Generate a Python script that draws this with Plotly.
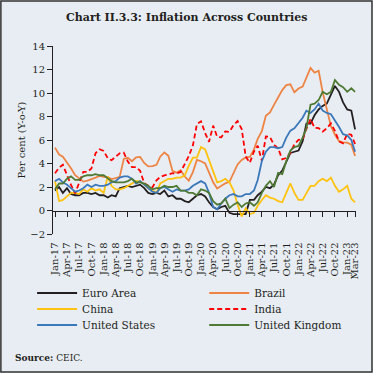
import pandas as pd
import plotly.graph_objects as go

months = pd.date_range("2017-01-01", periods=75, freq="MS")

euro_area = [1.7, 2.0, 1.5, 1.9, 1.4, 1.3, 1.3, 1.5, 1.5, 1.4, 1.5, 1.3,
             1.3, 1.1, 1.3, 1.2, 1.9, 2.0, 2.1, 2.0, 2.1, 2.2, 1.9, 1.5,
             1.4, 1.5, 1.4, 1.7, 1.2, 1.3, 1.0, 1.0, 0.8, 0.7, 1.0, 1.3,
             1.4, 1.2, 0.7, 0.3, 0.1, 0.3, 0.4, -0.2, -0.3, -0.3, -0.3, -0.3,
             0.9, 0.9, 1.3, 1.6, 2.0, 1.9, 2.2, 3.0, 3.4, 4.1, 4.9, 5.0,
             5.1, 5.9, 7.4, 7.4, 8.1, 8.6, 8.9, 9.1, 9.9, 10.6, 10.1, 9.2,
             8.6, 8.5, 6.9]
brazil = [5.35, 4.76, 4.57, 4.08, 3.60, 3.00, 2.71, 2.46, 2.54, 2.70, 2.80, 2.95,
          2.86, 2.84, 2.68, 2.76, 2.86, 4.39, 4.48, 4.19, 4.53, 4.56, 4.05, 3.75,
          3.78, 3.89, 4.58, 4.94, 4.66, 3.37, 3.22, 3.43, 2.89, 2.54, 3.27, 4.31,
          4.19, 4.00, 3.30, 2.40, 1.88, 2.13, 2.31, 2.44, 3.14, 3.92, 4.31, 4.52,
          4.56, 5.20, 6.10, 6.76, 8.06, 8.35, 8.99, 9.68, 10.25, 10.67, 10.74, 10.06,
          10.38, 10.54, 11.30, 12.13, 11.73, 11.89, 10.07, 8.73, 7.17, 6.47, 5.90, 5.79,
          5.77, 5.60, 4.65]
china = [2.5, 0.8, 0.9, 1.2, 1.5, 1.5, 1.4, 1.8, 1.6, 1.9, 1.7, 1.8,
         1.5, 2.9, 2.1, 1.8, 1.8, 1.9, 2.1, 2.3, 2.5, 2.5, 2.2, 1.9,
         1.7, 1.5, 2.3, 2.5, 2.7, 2.7, 2.8, 2.8, 3.0, 3.8, 4.5, 4.5,
         5.4, 5.2, 4.3, 3.3, 2.4, 2.5, 2.7, 2.4, 1.7, 0.5, -0.5, 0.2,
         -0.3, -0.2, 0.4, 0.9, 1.3, 1.1, 1.0, 0.8, 0.7, 1.5, 2.3, 1.5,
         0.9, 0.9, 1.5, 2.1, 2.1, 2.5, 2.7, 2.5, 2.8, 2.1, 1.6, 1.8,
         2.1, 1.0, 0.7]
india = [3.17, 3.65, 3.89, 2.99, 2.18, 1.46, 2.36, 3.28, 3.28, 3.58, 4.88, 5.21,
         5.07, 4.44, 4.28, 4.58, 4.87, 4.92, 4.17, 3.69, 3.70, 3.38, 2.33, 2.11,
         1.97, 2.57, 2.86, 2.99, 3.05, 3.18, 3.15, 3.28, 3.99, 4.62, 5.54, 7.35,
         7.59, 6.58, 5.84, 7.22, 6.27, 6.23, 6.73, 6.69, 7.27, 7.61, 6.93, 4.59,
         4.06, 5.03, 5.52, 4.23, 6.30, 6.26, 5.59, 5.30, 4.35, 4.48, 4.91, 5.66,
         6.01, 6.07, 6.95, 7.79, 7.04, 7.01, 6.71, 7.00, 7.41, 6.77, 5.88, 5.72,
         6.52, 6.44, 5.66]
united_states = [2.5, 2.7, 2.4, 2.2, 1.9, 1.6, 1.7, 1.9, 2.2, 2.0, 2.2, 2.1,
                 2.1, 2.2, 2.4, 2.5, 2.8, 2.9, 2.9, 2.7, 2.3, 2.5, 2.2, 1.9,
                 1.6, 1.5, 1.9, 2.0, 1.8, 1.6, 1.8, 1.7, 1.7, 1.8, 2.1, 2.3,
                 2.5, 2.3, 1.5, 0.3, 0.1, 0.6, 1.0, 1.3, 1.4, 1.2, 1.2, 1.4,
                 1.4, 1.7, 2.6, 4.2, 5.0, 5.4, 5.4, 5.3, 5.4, 6.2, 6.8, 7.0,
                 7.5, 7.9, 8.5, 8.3, 8.6, 9.1, 8.5, 8.3, 8.2, 7.7, 7.1, 6.5,
                 6.4, 6.0, 5.0]
united_kingdom = [1.8, 2.3, 2.3, 2.7, 2.9, 2.6, 2.6, 2.9, 3.0, 3.0, 3.1, 3.0,
                  3.0, 2.7, 2.5, 2.4, 2.4, 2.4, 2.5, 2.7, 2.4, 2.4, 2.3, 2.1,
                  1.8, 1.9, 1.9, 2.1, 2.0, 2.0, 2.1, 1.7, 1.7, 1.5, 1.5, 1.3,
                  1.8, 1.7, 1.5, 0.8, 0.5, 0.6, 1.0, 0.2, 0.5, 0.7, 0.3, 0.6,
                  0.7, 0.4, 0.7, 1.5, 2.1, 2.5, 2.0, 3.2, 3.1, 4.2, 5.1, 5.4,
                  5.5, 6.2, 7.0, 9.0, 9.1, 9.4, 10.1, 9.9, 10.1, 11.1, 10.7, 10.5,
                  10.1, 10.4, 10.1]

series_names = ["Euro Area", "Brazil", "China", "India", "United States", "United Kingdom"]
series_values = [euro_area, brazil, china, india, united_states, united_kingdom]
series_colors = ["#231F20", "#EE8444", "#FFC20E", "#FF0000", "#3B78BA", "#4F7A34"]
series_dash = ["solid", "solid", "solid", "5px,3px", "solid", "solid"]

tick_dates = list(pd.date_range("2017-01-01", "2023-01-01", freq="3MS")) + [pd.Timestamp("2023-03-01")]
tick_text = [d.strftime("%b-%y") for d in tick_dates]

FONT = "DejaVu Serif"
INK = "#231F20"

# legend slots: two columns x three rows
legend_x = [-0.069, 0.499]
legend_y = [-0.3138, -0.399, -0.484]

fig = go.Figure()
layout_legends = {}
for i, (name, vals, color, dash) in enumerate(zip(series_names, series_values, series_colors, series_dash)):
    key = "legend" if i == 0 else f"legend{i + 1}"
    fig.add_trace(go.Scatter(x=months, y=vals, mode="lines", name=name, legend=key,
                             line=dict(color=color, width=1.8, dash=dash)))
    layout_legends[key] = dict(
        x=legend_x[i % 2], y=legend_y[i // 2], xanchor="left", yanchor="middle",
        itemwidth=40, font=dict(family=FONT, size=10.5, color=INK),
        bgcolor="rgba(0,0,0,0)", borderwidth=0)

fig.update_layout(
    width=373, height=373,
    margin=dict(l=53, r=17, t=46, b=139),
    paper_bgcolor="#E8EDF4", plot_bgcolor="#E8EDF4",
    font=dict(family=FONT, size=10, color=INK),
    showlegend=True,
    xaxis=dict(range=["2016-12-17", "2023-03-08"], tickvals=tick_dates, ticktext=tick_text,
               tickangle=-90, showgrid=False, zeroline=False,
               anchor="free", position=0.125, showline=True, linecolor=INK, linewidth=1,
               ticks="outside", ticklen=5, tickcolor=INK, ticklabelstandoff=22,
               tickfont=dict(family=FONT, size=10), automargin=False),
    yaxis=dict(range=[-2, 14], dtick=2, showgrid=False, zeroline=False,
               showline=True, linecolor=INK, linewidth=1,
               ticks="outside", ticklen=5, tickcolor=INK,
               tickfont=dict(family=FONT, size=10),
               title=dict(text="Per cent (Y-o-Y)", font=dict(family=FONT, size=10), standoff=2),
               automargin=False),
    annotations=[
        dict(text="<b>Chart II.3.3: Inflation Across Countries</b>", xref="paper", yref="paper",
             x=0.44, y=1.15, xanchor="center", yanchor="middle", showarrow=False,
             font=dict(family=FONT, size=11, color=INK)),
        dict(text="<b>Source:</b> CEIC.", xref="paper", yref="paper",
             x=-0.132, y=-0.66, xanchor="left", yanchor="middle", showarrow=False,
             font=dict(family=FONT, size=9, color=INK)),
    ],
    shapes=[dict(type="rect", xref="paper", yref="paper",
                 x0=-0.172, x1=1.0528, y0=1.2394, y1=-0.7340,
                 line=dict(color="#333333", width=1.5))],
    **layout_legends,
)

fig.write_html("out.html", config={"displayModeBar": False},
               post_script="document.body.style.margin='0px';")
